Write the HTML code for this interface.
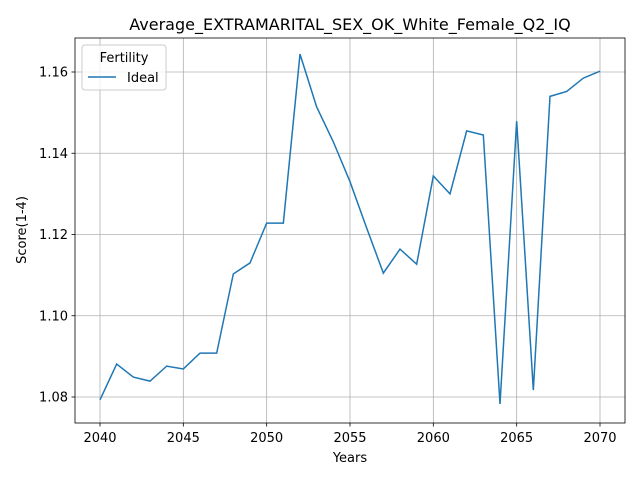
<!DOCTYPE html>
<html><head><meta charset="utf-8"><style>
body{margin:0;background:#fff;font-family:"Liberation Sans","DejaVu Sans",sans-serif;}
svg text{font-family:"DejaVu Sans","Liberation Sans",sans-serif;}
</style></head><body>
<svg id="chart" width="640" height="480" xmlns="http://www.w3.org/2000/svg">
<rect width="640" height="480" fill="#fff"/>
<g id="grid"></g>
<g id="ticks"></g>
<path id="line" fill="none" stroke="#1f77b4" stroke-width="1.5"/>
<rect x="75" y="38" width="550" height="385" fill="none" stroke="#000" stroke-width="0.8"/>
<text x="350" y="30" font-size="16" text-anchor="middle">Average_EXTRAMARITAL_SEX_OK_White_Female_Q2_IQ</text>
<text x="350" y="462" font-size="13" text-anchor="middle">Years</text>
<text transform="translate(26,230) rotate(-90)" font-size="13" text-anchor="middle">Score(1-4)</text>
<g>
<rect x="82" y="45" width="84" height="45" rx="3" fill="#fff" fill-opacity="0.8" stroke="#ccc"/>
<text x="124" y="62" font-size="13" text-anchor="middle">Fertility</text>
<line x1="88" y1="77" x2="116" y2="77" stroke="#1f77b4" stroke-width="1.5"/>
<text x="127" y="82" font-size="13">Ideal</text>
</g>
</svg>
<script>
const years=[2040,2041,2042,2043,2044,2045,2046,2047,2048,2049,2050,2051,2052,2053,2054,2055,2056,2057,2058,2059,2060,2061,2062,2063,2064,2065,2066,2067,2068,2069,2070];
const values=[1.0793,1.0881,1.0849,1.0839,1.0876,1.0869,1.0908,1.0908,1.1103,1.1130,1.1228,1.1228,1.1644,1.1514,1.1428,1.1330,1.1216,1.1105,1.1164,1.1127,1.1344,1.1300,1.1455,1.1445,1.0783,1.1479,1.0817,1.1540,1.1552,1.1585,1.1602];
const xTicks=[2040,2045,2050,2055,2060,2065,2070];
const yTicks=[1.08,1.10,1.12,1.14,1.16];
const NS="http://www.w3.org/2000/svg";
function sx(v){return 100+(v-2040)*500/30;}
function sy(v){return 397-(v-1.08)*325/0.08;}
const grid=document.getElementById('grid'),ticks=document.getElementById('ticks');
function mk(tag,attrs,parent){const e=document.createElementNS(NS,tag);for(const k in attrs)e.setAttribute(k,attrs[k]);parent.appendChild(e);return e;}
xTicks.forEach(t=>{const x=sx(t);
const g=mk('line',{x1:x,y1:38,x2:x,y2:423,stroke:'#b0b0b0','stroke-width':0.8},grid);


mk('line',{x1:x,y1:423,x2:x,y2:426.5,stroke:'#000','stroke-width':0.8},ticks);
const tx=mk('text',{x:x,y:442,'font-size':13,'text-anchor':'middle'},ticks);tx.textContent=t;

});
yTicks.forEach(t=>{const y=sy(t);
const g=mk('line',{x1:75,y1:y,x2:625,y2:y,stroke:'#b0b0b0','stroke-width':0.8},grid);


mk('line',{x1:71.5,y1:y,x2:75,y2:y,stroke:'#000','stroke-width':0.8},ticks);
const tx=mk('text',{x:68,y:y+4.5,'font-size':13,'text-anchor':'end'},ticks);tx.textContent=t.toFixed(2);

});
document.getElementById('line').setAttribute('d',years.map((y,i)=>(i?'L':'M')+sx(y)+','+sy(values[i])).join(' '));
</script>
</body></html>
